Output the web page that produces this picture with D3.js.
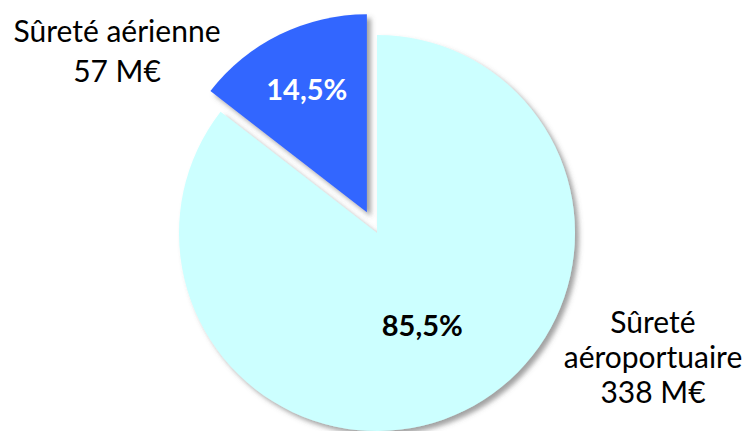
<!DOCTYPE html>
<html>
<head>
<meta charset="utf-8">
<script src="https://cdn.jsdelivr.net/npm/d3@7"></script>
<style>
  body { margin: 0; background: #fff; }
  text { font-family: Lato, "Open Sans", sans-serif; }
</style>
</head>
<body>
<div id="chart"></div>
<script>
// data
var categories = ['Sûreté aéroportuaire', 'Sûreté aérienne'];
var amounts = ['338 M€', '57 M€'];
var shares = [85.5, 14.5];
var shareLabels = ['85,5%', '14,5%'];
var colors = ['#ccffff', '#3366ff'];

var width = 747;
var height = 431;
var radius = 198;
var cx = 377, cy = 233;

var svg = d3.select('#chart')
    .append('svg')
    .attr('width', width)
    .attr('height', height);

var defs = svg.append('defs');
defs.append('filter')
    .attr('id', 'shadow')
    .attr('x', '-20%').attr('y', '-20%')
    .attr('width', '140%').attr('height', '140%')
  .append('feDropShadow')
    .attr('dx', 4)
    .attr('dy', 4)
    .attr('stdDeviation', 2.5)
    .attr('flood-color', '#555')
    .attr('flood-opacity', 0.55);

var pie = d3.pie()
    .sort(null)
    .value(function(d) { return d; });

var arcs = pie(shares);

var arc = d3.arc()
    .innerRadius(0)
    .outerRadius(radius);

// how far each slice is pulled out, and where its % label sits
var explode = [0, 23];
var labelRadius = [0.52, 0.69];

function offset(d, i) {
    var a = (d.startAngle + d.endAngle) / 2;
    return [Math.sin(a) * explode[i], -Math.cos(a) * explode[i]];
}

var g = svg.append('g')
    .attr('transform', 'translate(' + cx + ',' + cy + ')');

var slices = g.selectAll('g.slice')
    .data(arcs)
    .enter()
    .append('g')
    .attr('class', 'slice')
    .attr('transform', function(d, i) {
        return 'translate(' + offset(d, i) + ')';
    });

slices.append('path')
    .attr('d', arc)
    .style('fill', function(d, i) { return colors[i]; })
    .attr('filter', 'url(#shadow)');

slices.append('text')
    .attr('text-anchor', 'middle')
    .attr('dy', '0.36em')
    .attr('transform', function(d, i) {
        var a = (d.startAngle + d.endAngle) / 2;
        var r = radius * labelRadius[i];
        return 'translate(' + [Math.sin(a) * r, -Math.cos(a) * r] + ')';
    })
    .style('font-size', '29px')
    .style('font-weight', 'bold')
    .style('fill', function(d, i) { return i === 1 ? '#fff' : '#000'; })
    .text(function(d, i) { return shareLabels[i]; });

// category labels
var leftLabel = svg.append('text')
    .attr('text-anchor', 'middle')
    .style('font-size', '30px')
    .style('fill', '#000');
leftLabel.append('tspan').attr('x', 117).attr('y', 42).text(categories[1]);
leftLabel.append('tspan').attr('x', 117).attr('y', 82).text(amounts[1]);

var rightWords = categories[0].split(' ');
var rightLabel = svg.append('text')
    .attr('text-anchor', 'middle')
    .style('font-size', '30px')
    .style('fill', '#000');
rightLabel.append('tspan').attr('x', 653).attr('y', 333).text(rightWords[0]);
rightLabel.append('tspan').attr('x', 653).attr('y', 368).text(rightWords[1]);
rightLabel.append('tspan').attr('x', 653).attr('y', 403).text(amounts[0]);
</script>
</body>
</html>
